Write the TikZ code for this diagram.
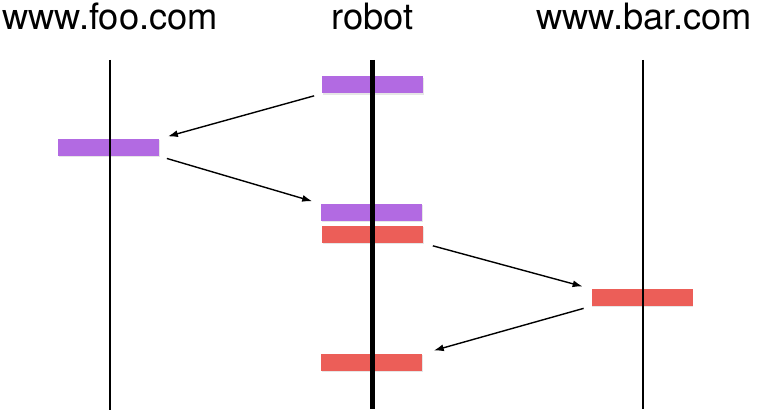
\documentclass[tikz,border=0pt]{standalone}
\usepackage{fontspec}
\setmainfont{TeX Gyre Heros}
\usetikzlibrary{calc,positioning,arrows.meta,shadows}
\pgfdeclarelayer{back}
\pgfsetlayers{back,main}

\definecolor{callpurple}{RGB}{178,106,226}
\definecolor{replyred}{RGB}{236,94,88}

\tikzset{
  lifeline/.style={line width=2pt},
  robotline/.style={line width=4.5pt},
  callbar/.style={rectangle,minimum width=101pt,minimum height=17pt,inner sep=0pt,
    fill=callpurple,drop shadow={shadow xshift=0.6pt,shadow yshift=-1.2pt,opacity=0.2}},
  replybar/.style={callbar,fill=replyred},
  msg/.style={-{Latex[length=10pt,width=7pt]},line width=1.4pt,shorten <=8pt,shorten >=9pt},
  hostlabel/.style={anchor=base,inner sep=0pt,font=\fontsize{36.3}{43}\selectfont}
}

\begin{document}
\begin{tikzpicture}[x=1pt,y=-1pt]

  \useasboundingbox (0,0) rectangle (759,417);

  \node [hostlabel] at(110,30) (foo_label) {www.foo.com};
  \node [hostlabel] at(372.5,30) (robot_label) {robot};
  \node [hostlabel] at(644,30) (bar_label) {www.bar.com};

  % activation bars, top to bottom
  \node [callbar] at(372.5,85) (robot_1) {};
  \node [callbar] at(108.5,147.5) (foo_1) {};
  \node [callbar] at(371.5,212.5) (robot_2) {};
  \node [replybar] at(372.5,234.5) (robot_3) {};
  \node [replybar] at(642,297.5) (bar_1) {};
  \node [replybar] at(371.5,362.5) (robot_4) {};

  % lifelines
  \coordinate (foo_top) at(110,60);
  \coordinate (foo_bot) at(110,410);
  \coordinate (robot_top) at(372.5,60);
  \coordinate (robot_bot) at(372.5,409);
  \coordinate (bar_top) at(643,60);
  \coordinate (bar_bot) at(643,409);

  \draw [lifeline] (foo_top) -- (foo_bot);
  \draw [robotline] (robot_top) -- (robot_bot);
  \draw [lifeline] (bar_top) -- (bar_bot);

  % messages
  \draw [msg] (robot_1.south west) -- (foo_1.north east);
  \draw [msg] (foo_1.south east) -- (robot_2.north west);
  \draw [msg,shorten <=10pt] (robot_3.south east) -- (bar_1.north west);
  \draw [msg,shorten >=12pt] (bar_1.south west) -- (robot_4.north east);

\end{tikzpicture}
\end{document}
